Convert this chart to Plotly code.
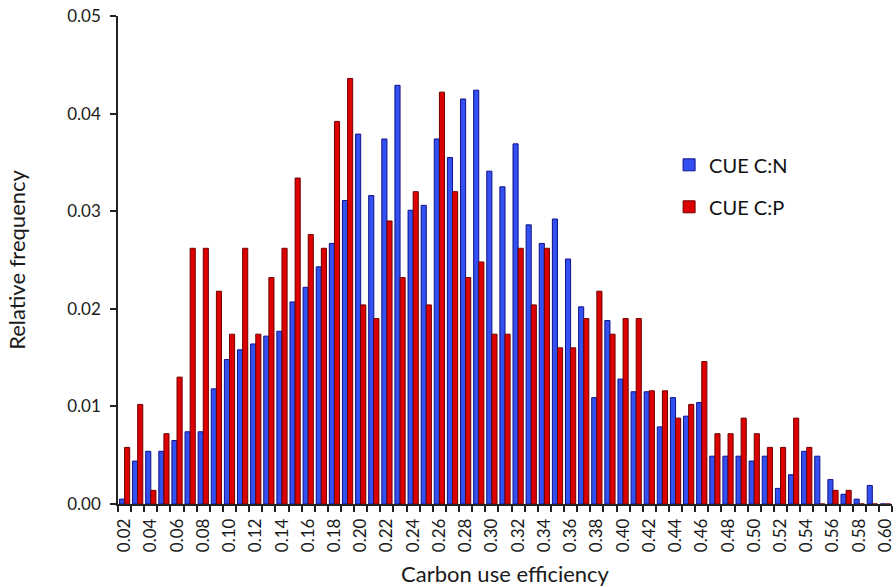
import plotly.graph_objects as go

cue = [round(0.02 + 0.01 * i, 2) for i in range(59)]  # bin centres 0.02 .. 0.60

cue_cn = [0.0005, 0.0044, 0.0054, 0.0054, 0.0065, 0.0074, 0.0074, 0.0118, 0.0148, 0.0158,
          0.0164, 0.0172, 0.0177, 0.0207, 0.0222, 0.0243, 0.0267, 0.0311, 0.0379, 0.0316,
          0.0374, 0.0429, 0.0301, 0.0306, 0.0374, 0.0355, 0.0415, 0.0424, 0.0341, 0.0325,
          0.0369, 0.0286, 0.0267, 0.0292, 0.0251, 0.0202, 0.0109, 0.0188, 0.0128, 0.0115,
          0.0115, 0.0079, 0.0109, 0.0090, 0.0104, 0.0049, 0.0049, 0.0049, 0.0044, 0.0049,
          0.0016, 0.0030, 0.0054, 0.0049, 0.0025, 0.0010, 0.0005, 0.0019, 0.0]

cue_cp = [0.0058, 0.0102, 0.0014, 0.0072, 0.0130, 0.0262, 0.0262, 0.0218, 0.0174, 0.0262,
          0.0174, 0.0232, 0.0262, 0.0334, 0.0276, 0.0262, 0.0392, 0.0436, 0.0204, 0.0190,
          0.0290, 0.0232, 0.0320, 0.0204, 0.0422, 0.0320, 0.0232, 0.0248, 0.0174, 0.0174,
          0.0262, 0.0204, 0.0262, 0.0160, 0.0160, 0.0190, 0.0218, 0.0174, 0.0190, 0.0190,
          0.0116, 0.0116, 0.0088, 0.0102, 0.0146, 0.0072, 0.0072, 0.0088, 0.0072, 0.0058,
          0.0058, 0.0088, 0.0058, 0.0, 0.0014, 0.0014, 0.0, 0.0, 0.0]

x_ticks = [round(0.02 + 0.02 * i, 2) for i in range(30)]
x_ticktext = [f"{v:.2f}" for v in x_ticks]
y_ticks = [0.0, 0.01, 0.02, 0.03, 0.04, 0.05]

FONT = "Lato"
TXT = "#1a1a1a"

fig = go.Figure()
fig.add_trace(go.Bar(
    x=cue, y=cue_cn, name="CUE C:N",
    marker=dict(color="#3350f0", line=dict(color="#10108a", width=1)),
    legend="legend",
))
fig.add_trace(go.Bar(
    x=cue, y=cue_cp, name="CUE C:P",
    marker=dict(color="#dd0000", line=dict(color="#700000", width=1)),
    legend="legend2",
))

fig.update_layout(
    width=896, height=587,
    margin=dict(l=118, r=1, t=16, b=83),
    paper_bgcolor="white", plot_bgcolor="white",
    showlegend=True,
    barmode="group", bargap=0.22, bargroupgap=0.0,
    font=dict(family=FONT, size=17, color=TXT),
    legend=dict(x=0.712, y=0.695, xanchor="left", yanchor="middle",
                font=dict(size=20, family=FONT, color="#111111"),
                bgcolor="rgba(0,0,0,0)", itemwidth=30),
    legend2=dict(x=0.712, y=0.609, xanchor="left", yanchor="middle",
                 font=dict(size=20, family=FONT, color="#111111"),
                 bgcolor="rgba(0,0,0,0)", itemwidth=30),
    xaxis=dict(
        range=[0.015, 0.605], tickmode="array", tickvals=x_ticks, ticktext=x_ticktext,
        tickangle=-90, ticks="", showgrid=False, zeroline=False,
        showline=True, linecolor="#222222", linewidth=1.5,
        tickfont=dict(size=17, family=FONT, color=TXT),
        ticklabelstandoff=6, ticklabeloverflow="allow",
        minor=dict(ticks="outside", tick0=0.015, dtick=0.01, ticklen=6,
                   tickcolor="#222222", tickwidth=1.5, showgrid=False),
        title=dict(text="Carbon use efficiency", font=dict(size=22, family=FONT, color=TXT),
                   standoff=16),
    ),
    yaxis=dict(
        range=[0, 0.05], tickmode="array", tickvals=y_ticks,
        ticktext=[f"{v:.2f}" for v in y_ticks],
        ticks="outside", ticklen=6, tickwidth=1.5, tickcolor="#222222",
        showgrid=False, zeroline=False,
        showline=True, linecolor="#222222", linewidth=1.5,
        tickfont=dict(size=17, family=FONT, color=TXT),
        ticklabelstandoff=6,
        title=dict(text="Relative frequency", font=dict(size=22, family=FONT, color=TXT),
                   standoff=36),
    ),
)

fig.write_html("out.html")
